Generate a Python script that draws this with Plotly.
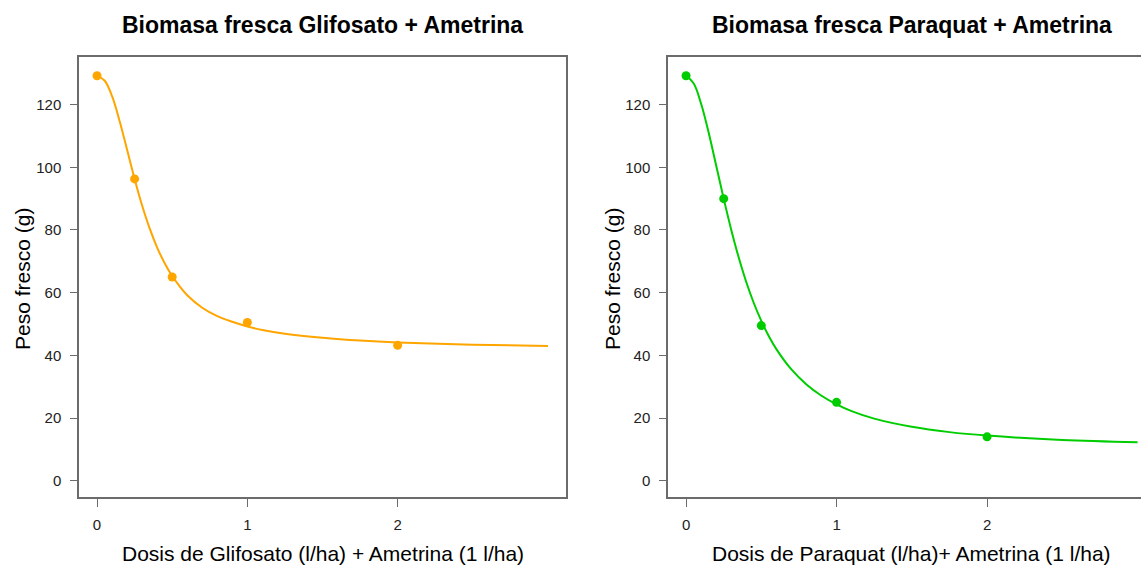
import plotly.graph_objects as go

# Observed fresh biomass by dose
dosis = [0, 0.25, 0.5, 1, 2]
peso_glifosato = [129.2, 96.3, 65.0, 50.5, 43.2]
peso_paraquat = [129.2, 90.0, 49.5, 25.0, 14.0]

# Fitted dose-response curves (sampled along the dose axis)
curva_x = [0, 0.05, 0.1, 0.15, 0.2, 0.25, 0.3, 0.35, 0.4, 0.45, 0.5, 0.55, 0.6,
           0.7, 0.8, 0.9, 1.0, 1.1, 1.25, 1.5, 1.75, 2.0, 2.5, 3.0]
curva_y_glif = [129.2, 127.7, 122.7, 114.8, 105.6, 96.3, 87.8, 80.5, 74.4, 69.4, 65.3, 62.0, 59.2,
                55.2, 52.5, 50.7, 49.2, 48.1, 46.9, 45.6, 44.7, 44.1, 43.4, 43.0]
curva_y_para = [129.2, 126.8, 120.3, 111.1, 100.6, 90.0, 80.1, 71.2, 63.4, 56.7, 51.0, 46.1, 42.0,
                35.5, 30.7, 27.1, 24.35, 22.2, 19.8, 17.2, 15.5, 14.4, 13.0, 12.3]

y_ticks = [0, 20, 40, 60, 80, 100, 120]
x_ticks = [0, 1, 2]

titulos = ["Biomasa fresca Glifosato + Ametrina", "Biomasa fresca Paraquat + Ametrina"]
titulos_x = ["Dosis de Glifosato (l/ha) + Ametrina (1 l/ha)",
             "Dosis de Paraquat (l/ha)+ Ametrina (1 l/ha)"]
titulo_y = "Peso fresco (g)"

NARANJA = "#FFA500"
VERDE = "#00CD00"
FONT = "Liberation Sans, Arial, Helvetica, sans-serif"
BOX = "#6b6b6b"

W, H = 1141, 566
fig = go.Figure()

fig.add_trace(go.Scatter(x=curva_x, y=curva_y_glif, mode="lines",
                         line=dict(color=NARANJA, width=2, shape="spline", smoothing=1),
                         xaxis="x", yaxis="y", hoverinfo="skip"))
fig.add_trace(go.Scatter(x=dosis, y=peso_glifosato, mode="markers",
                         marker=dict(color=NARANJA, size=9), xaxis="x", yaxis="y"))
fig.add_trace(go.Scatter(x=curva_x, y=curva_y_para, mode="lines",
                         line=dict(color=VERDE, width=2, shape="spline", smoothing=1),
                         xaxis="x2", yaxis="y2", hoverinfo="skip"))
fig.add_trace(go.Scatter(x=dosis, y=peso_paraquat, mode="markers",
                         marker=dict(color=VERDE, size=9), xaxis="x2", yaxis="y2"))

# panel geometry in pixels
L1, R1 = 79, 566
L2 = 668
TOP, BOT = 57, 497
px_per_unit_2 = 150.5

ydom = [1 - BOT / H, 1 - TOP / H]
tickfont = dict(family=FONT, size=15, color="#222222")

common_x = dict(tickvals=x_ticks, ticks="outside", ticklen=8, tickcolor=BOX, tickwidth=1,
                showgrid=False, zeroline=False, showline=True, linecolor=BOX, linewidth=1.5,
                tickfont=tickfont, ticklabelstandoff=5)
common_y = dict(tickvals=y_ticks, range=[-5.2, 135.2], ticks="outside", ticklen=7,
                tickcolor=BOX, tickwidth=1, showgrid=False, zeroline=False, showline=True,
                linecolor=BOX, linewidth=1.5, tickfont=tickfont, ticklabelstandoff=6)

fig.update_layout(
    width=W, height=H,
    margin=dict(l=0, r=0, t=0, b=0),
    paper_bgcolor="white", plot_bgcolor="white",
    showlegend=False,
    xaxis=dict(domain=[L1 / W, R1 / W], range=[-0.12, 3.12], anchor="y", mirror=True, **common_x),
    yaxis=dict(domain=ydom, anchor="x", mirror=True, **common_y),
    xaxis2=dict(domain=[L2 / W, 1.0], range=[-0.12, -0.12 + (W - L2) / px_per_unit_2],
                anchor="y2", mirror=True, **common_x),
    yaxis2=dict(domain=ydom, anchor="x2", mirror=False, **common_y),
)

# full box width of the right panel (continues past the page edge)
c1 = (L1 + R1) / 2 / W
c2 = (L2 + L2 + 3.24 * px_per_unit_2) / 2 / W

anns = []
for cx, t, tx in [(c1, titulos[0], titulos_x[0]), (c2, titulos[1], titulos_x[1])]:
    anns.append(dict(x=cx, y=1 - 25 / H, xref="paper", yref="paper", text=f"<b>{t}</b>",
                     showarrow=False, xanchor="center", yanchor="middle",
                     font=dict(family=FONT, size=23, color="black")))
    anns.append(dict(x=cx, y=1 - 553 / H, xref="paper", yref="paper", text=tx,
                     showarrow=False, xanchor="center", yanchor="middle",
                     font=dict(family=FONT, size=21, color="black")))
for yx in [22, 612]:
    anns.append(dict(x=yx / W, y=1 - 279 / H, xref="paper", yref="paper", text=titulo_y,
                     textangle=-90, showarrow=False, xanchor="center", yanchor="middle",
                     font=dict(family=FONT, size=21, color="black")))
fig.update_layout(annotations=anns)

fig.write_html("out.html")
